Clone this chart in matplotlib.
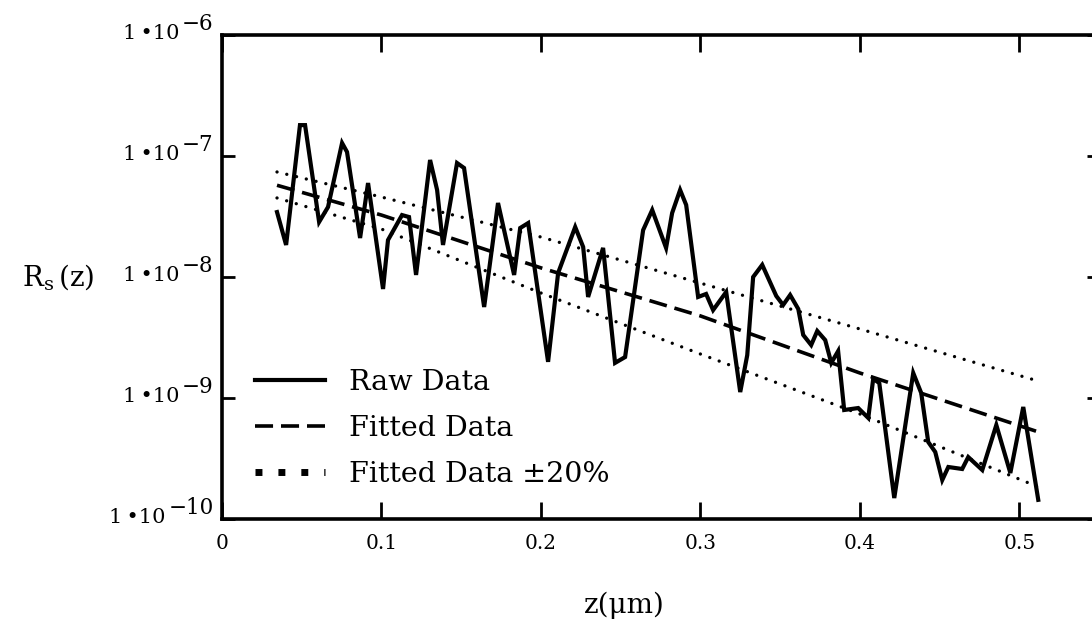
import matplotlib
matplotlib.use("Agg")
import matplotlib.pyplot as plt
from matplotlib.lines import Line2D

# ---------------- data ----------------
z_raw = [0.0345, 0.0402, 0.0489, 0.0521, 0.0609, 0.0665, 0.0753, 0.0784, 0.0866, 0.0916,
         0.1010, 0.1041, 0.1129, 0.1173, 0.1217, 0.1305, 0.1349, 0.1386, 0.1474, 0.1518,
         0.1644, 0.1731, 0.1832, 0.1870, 0.1920, 0.2045, 0.2108, 0.2215, 0.2265, 0.2296,
         0.2390, 0.2465, 0.2528, 0.2641, 0.2698, 0.2785, 0.2823, 0.2873, 0.2911, 0.2986,
         0.3036, 0.3080, 0.3162, 0.3250, 0.3294, 0.3331, 0.3388, 0.3476, 0.3519, 0.3563,
         0.3614, 0.3645, 0.3695, 0.3733, 0.3783, 0.3821, 0.3864, 0.3902, 0.3990, 0.4053,
         0.4084, 0.4122, 0.4216, 0.4335, 0.4385, 0.4429, 0.4473, 0.4517, 0.4555, 0.4642,
         0.4680, 0.4768, 0.4856, 0.4944, 0.5025, 0.5119]
rs_raw = [3.44e-8, 1.84e-8, 1.80e-7, 1.80e-7, 2.85e-8, 3.79e-8, 1.28e-7, 1.08e-7, 2.10e-8, 5.98e-8,
          7.96e-9, 2.02e-8, 3.25e-8, 3.13e-8, 1.04e-8, 9.27e-8, 5.24e-8, 1.84e-8, 8.75e-8, 7.96e-8,
          5.65e-9, 4.09e-8, 1.04e-8, 2.54e-8, 2.79e-8, 1.99e-9, 1.08e-8, 2.59e-8, 1.77e-8, 6.84e-9,
          1.74e-8, 1.95e-9, 2.18e-9, 2.44e-8, 3.58e-8, 1.74e-8, 3.38e-8, 5.24e-8, 3.94e-8, 6.84e-9,
          7.24e-9, 5.33e-9, 7.52e-9, 1.12e-9, 2.26e-9, 1.00e-8, 1.26e-8, 6.97e-9, 5.87e-9, 7.10e-9,
          5.44e-9, 3.32e-9, 2.74e-9, 3.58e-9, 3.01e-9, 1.95e-9, 2.44e-9, 7.96e-10, 8.26e-10, 6.84e-10,
          1.44e-9, 1.33e-9, 1.49e-10, 1.61e-9, 1.10e-9, 4.33e-10, 3.58e-10, 2.10e-10, 2.69e-10, 2.59e-10,
          3.25e-10, 2.54e-10, 5.98e-10, 2.40e-10, 8.43e-10, 1.44e-10]

z_fit = [0.0345, 0.1, 0.2, 0.3, 0.4, 0.512]
rs_fit = [5.73e-8, 3.25e-8, 1.19e-8, 4.77e-9, 1.61e-9, 5.24e-10]
rs_fit_hi = [7.38e-8, 4.58e-8, 2.14e-8, 8.9e-9, 3.72e-9, 1.38e-9]
rs_fit_lo = [4.50e-8, 2.49e-8, 7.38e-9, 2.31e-9, 7.38e-10, 1.84e-10]

x_ticks = [0, 0.1, 0.2, 0.3, 0.4, 0.5]
x_tick_labels = ["0", "0.1", "0.2", "0.3", "0.4", "0.5"]
y_exponents = [-6, -7, -8, -9, -10]
legend_labels = ["Raw Data", "Fitted Data", "Fitted Data \u00b120%"]
x_label = "z(\u03bcm)"

# ---------------- figure ----------------
plt.rcParams["font.family"] = ["DejaVu Serif"]
plt.rcParams["mathtext.fontset"] = "dejavuserif"

W, H = 1092, 624
fig = plt.figure(figsize=(W / 100, H / 100), dpi=100)
# axes box in pixels: left 222, right ~1099 (beyond figure edge), top 35, bottom 519
ax = fig.add_axes([222 / W, (H - 519) / H, (1099 - 222) / W, (519 - 35) / H])

ax.set_yscale("log")
ax.set_xlim(0, 0.55)
ax.set_ylim(1e-10, 1e-6)

ax.plot(z_raw, rs_raw, color="black", lw=3.0, solid_joinstyle="miter")
ax.plot(z_fit, rs_fit, color="black", lw=2.6, linestyle=(0, (5.0, 2.2)))
ax.plot(z_fit, rs_fit_hi, color="black", lw=2.4, linestyle=(0, (0.01, 3.0)),
        dash_capstyle="round")
ax.plot(z_fit, rs_fit_lo, color="black", lw=2.4, linestyle=(0, (0.01, 3.0)),
        dash_capstyle="round")

for s in ax.spines.values():
    s.set_linewidth(2.6)

ax.set_xticks(x_ticks)
ax.set_xticklabels(x_tick_labels)
ax.set_yticks([10.0 ** e for e in y_exponents])
ax.set_yticklabels([])
ax.yaxis.set_minor_locator(matplotlib.ticker.NullLocator())
ax.xaxis.set_minor_locator(matplotlib.ticker.NullLocator())
ax.tick_params(axis="x", which="major", direction="in", length=12, width=2,
               top=True, bottom=True, pad=11, labelsize=14.5)
ax.tick_params(axis="y", which="major", direction="in", length=9, width=2,
               left=True, right=True)

# custom y tick labels "1•10^-n"
for e in y_exponents:
    exp_txt = ax.annotate("\u2212" + str(abs(e)), xy=(0, 10.0 ** e),
                          xycoords=("axes fraction", "data"),
                          xytext=(-6, 8), textcoords="offset points",
                          ha="right", va="center", fontsize=15.5,
                          annotation_clip=False)
    ax.annotate("1\u2009\u202210", xy=(0, 0.5), xycoords=exp_txt,
                xytext=(-2, -7), textcoords="offset points",
                ha="right", va="center", fontsize=15,
                annotation_clip=False)

# axis labels
fig.text(22 / W, 1 - 277 / H, r"$\mathregular{R_s\,(z)}$", fontsize=20,
         ha="left", va="center")
fig.text(624 / W, 1 - 605 / H, x_label, fontsize=20, ha="center", va="center")

# legend
h_raw = Line2D([], [], color="black", lw=3.0)
h_fit = Line2D([], [], color="black", lw=2.6, linestyle=(0, (5.0, 2.2)))
h_dot = Line2D([], [], color="black", lw=5, linestyle=(0, (1, 2.3)),
               dash_capstyle="butt")
leg = ax.legend([h_raw, h_fit, h_dot], legend_labels, loc="upper left",
                bbox_to_anchor=((255 - 222) / (1099 - 222), (519 - 369) / (519 - 35)),
                frameon=False, fontsize=20.5, handlelength=2.45,
                handletextpad=0.85, labelspacing=0.66, borderpad=0,
                borderaxespad=0)

fig.savefig("out.png", dpi=100)
